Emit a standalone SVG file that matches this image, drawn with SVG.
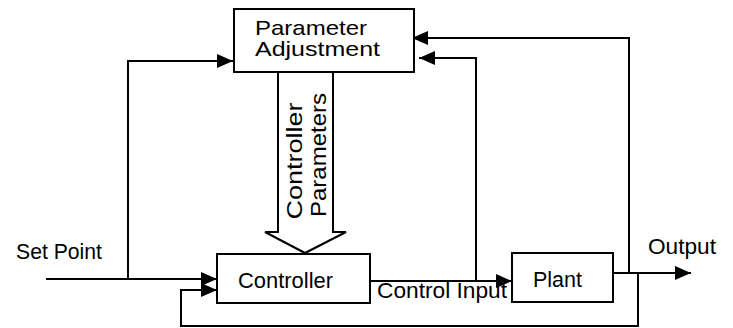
<svg xmlns="http://www.w3.org/2000/svg" width="733" height="328" viewBox="0 0 733 328">
<style>
.box{fill:#fff;stroke:#000;stroke-width:2}
.ln{fill:none;stroke:#000;stroke-width:2}
.t{font-family:"Liberation Sans",Arial,sans-serif;font-size:22px;fill:#000}
.p{font-size:21px}
</style>
<defs>
<marker id="ah" markerUnits="userSpaceOnUse" markerWidth="16" markerHeight="14" refX="16" refY="7" orient="auto">
<path d="M0,0 L16,7 L0,14 Z" fill="#000"/>
</marker>
</defs>
<g id="connectors">
<path class="ln" d="M46,279 H217" marker-end="url(#ah)"/>
<path class="ln" d="M128,279 V61 H233" marker-end="url(#ah)"/>
<path class="ln" d="M638,273 V326 H181 V290 H217" marker-end="url(#ah)"/>
<path class="ln" d="M370,281 H512" marker-end="url(#ah)"/>
<path class="ln" d="M476,281 V58 H419" marker-end="url(#ah)"/>
<path class="ln" d="M613,273 H691" marker-end="url(#ah)"/>
<path class="ln" d="M629,273 V38 H412" marker-end="url(#ah)"/>
</g>
<g id="param-adjust">
<rect class="box" x="234" y="9" width="180" height="63"/>
<text class="t p" x="255" y="35" textLength="112" lengthAdjust="spacingAndGlyphs">Parameter</text>
<text class="t p" x="255" y="56" textLength="125" lengthAdjust="spacingAndGlyphs">Adjustment</text>
</g>
<g id="controller-params">
<path class="box" d="M278,72 L333,72 L333,232 L346,232 L305,253 L265,232 L278,232 Z"/>
<text class="t" transform="translate(302,161) rotate(-90)" text-anchor="middle" textLength="117" lengthAdjust="spacingAndGlyphs">Controller</text>
<text class="t" transform="translate(326,155) rotate(-90)" text-anchor="middle" textLength="124" lengthAdjust="spacingAndGlyphs">Parameters</text>
</g>
<g id="controller">
<rect class="box" x="217" y="254" width="153" height="49"/>
<text class="t" x="238" y="288" textLength="95" lengthAdjust="spacingAndGlyphs">Controller</text>
</g>
<g id="plant">
<rect class="box" x="512" y="253" width="101" height="49"/>
<text class="t" x="533" y="287" textLength="49" lengthAdjust="spacingAndGlyphs">Plant</text>
</g>
<g id="labels">
<text class="t" x="16" y="259" textLength="86" lengthAdjust="spacingAndGlyphs">Set Point</text>
<text class="t" x="377" y="298" textLength="130" lengthAdjust="spacingAndGlyphs">Control Input</text>
<text class="t" x="648" y="254" textLength="68" lengthAdjust="spacingAndGlyphs">Output</text>
</g>
</svg>
